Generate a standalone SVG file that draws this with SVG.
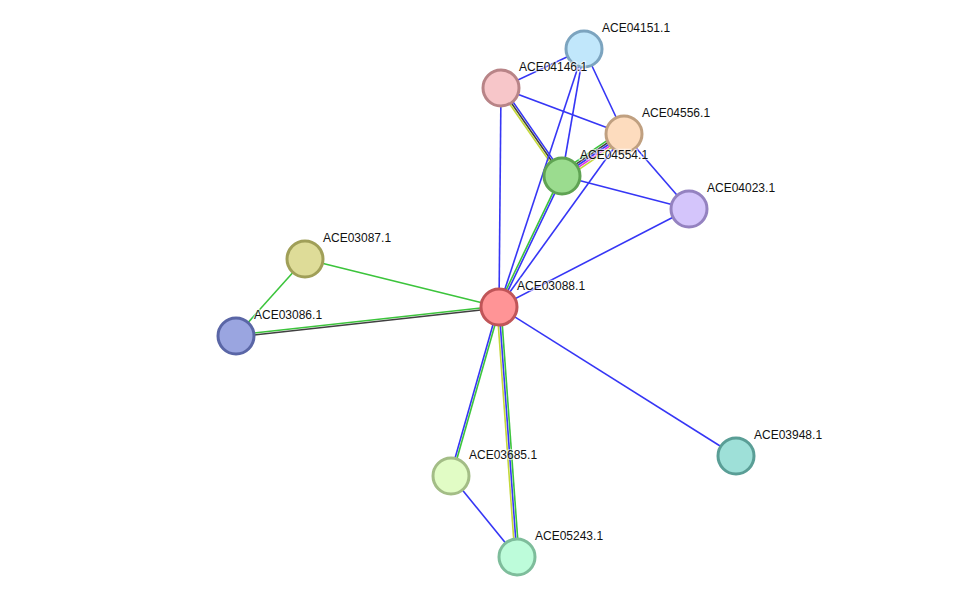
<svg xmlns="http://www.w3.org/2000/svg" width="976" height="603" viewBox="0 0 976 603">
<style>
.e{stroke-width:1.6;fill:none}
.b{stroke:#3636f5}
.g{stroke:#3cc43c}
.k{stroke:#404040}
.y{stroke:#c4d83a}
.m{stroke:#e030e0}
.n circle{stroke-width:3}
.n text{font-family:"Liberation Sans",Arial,sans-serif;font-size:12px;fill:#111;stroke:#fff;stroke-width:2.5;stroke-opacity:0.6;paint-order:stroke}
</style>
<rect width="976" height="603" fill="#fff"/>
<g id="edges">
<line class="e b" x1="501" y1="88" x2="584" y2="49"/>
<line class="e b" x1="501" y1="88" x2="624" y2="134"/>
<line class="e b" x1="502.6" y1="86.9" x2="563.6" y2="174.9"/>
<line class="e k" x1="501" y1="88" x2="562" y2="176"/>
<line class="e y" x1="499.4" y1="89.1" x2="560.4" y2="177.1"/>
<line class="e b" x1="501" y1="88" x2="499" y2="307"/>
<line class="e b" x1="584" y1="49" x2="624" y2="134"/>
<line class="e b" x1="584" y1="49" x2="562" y2="176"/>
<line class="e b" x1="584" y1="49" x2="499" y2="307"/>
<line class="e g" x1="621.76" y1="130.69" x2="559.76" y2="172.69"/>
<line class="e k" x1="622.88" y1="132.34" x2="560.88" y2="174.34"/>
<line class="e b" x1="624" y1="134" x2="562" y2="176"/>
<line class="e m" x1="625.12" y1="135.66" x2="563.12" y2="177.66"/>
<line class="e y" x1="626.24" y1="137.31" x2="564.24" y2="179.31"/>
<line class="e b" x1="624" y1="134" x2="689" y2="209"/>
<line class="e b" x1="624" y1="134" x2="499" y2="307"/>
<line class="e b" x1="562" y1="176" x2="689" y2="209"/>
<line class="e g" x1="498.1" y1="306.57" x2="561.1" y2="175.57"/>
<line class="e b" x1="499.9" y1="307.43" x2="562.9" y2="176.43"/>
<line class="e b" x1="689" y1="209" x2="499" y2="307"/>
<line class="e g" x1="305" y1="259" x2="499" y2="307"/>
<line class="e g" x1="305" y1="259" x2="236" y2="336"/>
<line class="e g" x1="235.9" y1="335" x2="498.9" y2="306"/>
<line class="e k" x1="236.1" y1="337" x2="499.1" y2="308"/>
<line class="e b" x1="498.04" y1="306.73" x2="450.04" y2="475.73"/>
<line class="e g" x1="499.96" y1="307.27" x2="451.96" y2="476.27"/>
<line class="e y" x1="497" y1="307.14" x2="515" y2="557.14"/>
<line class="e b" x1="499" y1="307" x2="517" y2="557"/>
<line class="e g" x1="501" y1="306.86" x2="519" y2="556.86"/>
<line class="e b" x1="499" y1="307" x2="736" y2="456"/>
<line class="e b" x1="451" y1="476" x2="517" y2="557"/>
</g>
<g id="ACE04151.1" class="n"><circle cx="584" cy="49" r="18" fill="#c1e7fb" stroke="#7ca4bf"/><text x="602" y="32">ACE04151.1</text></g>
<g id="ACE04146.1" class="n"><circle cx="501" cy="88" r="18" fill="#f7c6c9" stroke="#b88487"/><text x="519" y="71">ACE04146.1</text></g>
<g id="ACE04556.1" class="n"><circle cx="624" cy="134" r="18" fill="#fddcbe" stroke="#c0a080"/><text x="642" y="117">ACE04556.1</text></g>
<g id="ACE04554.1" class="n"><circle cx="562" cy="176" r="18" fill="#9bdc8f" stroke="#5fa353"/><text x="580" y="159">ACE04554.1</text></g>
<g id="ACE04023.1" class="n"><circle cx="689" cy="209" r="18" fill="#d4c5fb" stroke="#9482c0"/><text x="707" y="192">ACE04023.1</text></g>
<g id="ACE03087.1" class="n"><circle cx="305" cy="259" r="18" fill="#dedc98" stroke="#a09f58"/><text x="323" y="242">ACE03087.1</text></g>
<g id="ACE03088.1" class="n"><circle cx="499" cy="307" r="18" fill="#ff9496" stroke="#c05558"/><text x="517" y="290">ACE03088.1</text></g>
<g id="ACE03086.1" class="n"><circle cx="236" cy="336" r="18" fill="#9aa5e0" stroke="#5a66a6"/><text x="254" y="319">ACE03086.1</text></g>
<g id="ACE03685.1" class="n"><circle cx="451" cy="476" r="18" fill="#e1fcc5" stroke="#a3bd86"/><text x="469" y="459">ACE03685.1</text></g>
<g id="ACE03948.1" class="n"><circle cx="736" cy="456" r="18" fill="#9ee0d8" stroke="#5a9e96"/><text x="754" y="439">ACE03948.1</text></g>
<g id="ACE05243.1" class="n"><circle cx="517" cy="557" r="18" fill="#bdfcda" stroke="#7ebd9b"/><text x="535" y="540">ACE05243.1</text></g>
</svg>
